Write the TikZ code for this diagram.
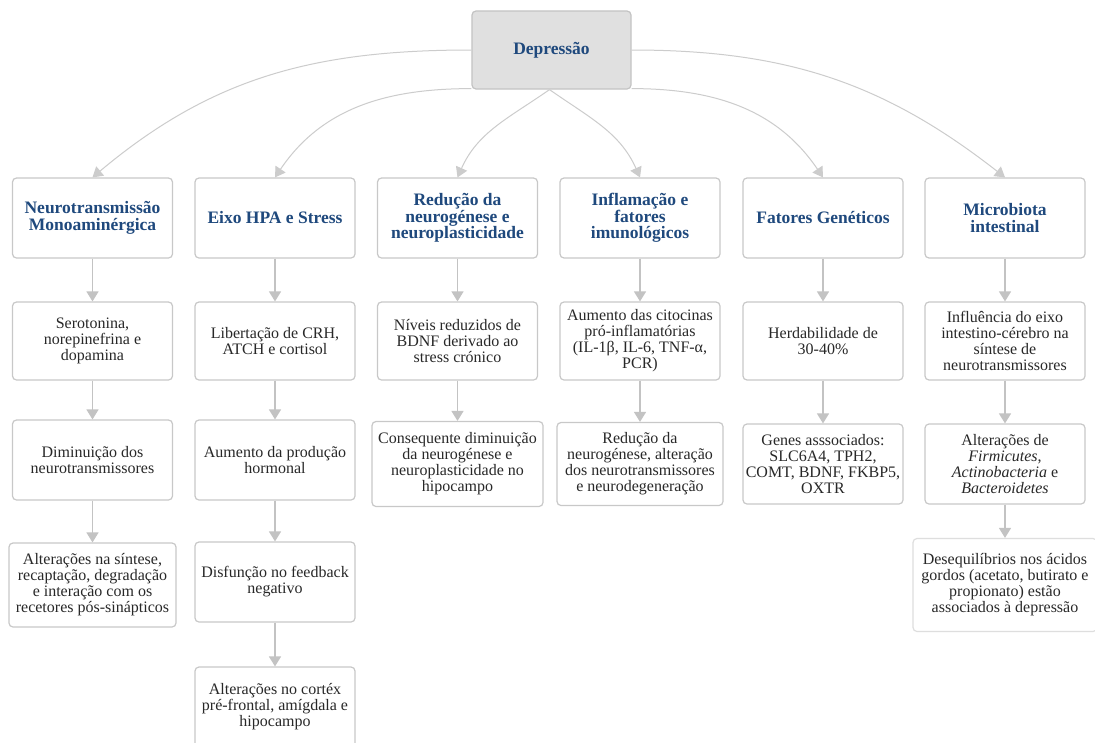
\documentclass[tikz,border=0pt]{standalone}
\usepackage{fontspec}
\setmainfont{Liberation Serif}
\usetikzlibrary{arrows.meta}

\definecolor{boxline}{RGB}{200,200,200}
\definecolor{rootfill}{RGB}{224,224,224}
\definecolor{headblue}{RGB}{31,73,125}
\definecolor{linkgray}{RGB}{195,195,195}
\definecolor{txtgray}{RGB}{40,40,40}

\tikzset{
  cbox/.style={draw=boxline, line width=1.2pt, rounded corners=4pt, fill=white,
    align=center, minimum width=160pt, minimum height=80pt, inner sep=1pt,
    text=txtgray, font=\fontsize{16}{16}\selectfont},
  headbox/.style={cbox, text=headblue, font=\bfseries\fontsize{17.5}{16.5}\selectfont},
  link/.style={draw=linkgray, line width=1.4pt, -{Triangle[width=12pt,length=10pt]}},
  branch/.style={draw=linkgray!85, line width=1pt, -{Triangle[width=12pt,length=10pt]}},
}

\begin{document}
\begin{tikzpicture}[x=1pt,y=1pt]
  \fill[white] (0,0) rectangle (1095,-742);
  \useasboundingbox (0,0) rectangle (1095,-742);

  % root
  \node[headbox, fill=rootfill, draw=linkgray, minimum width=159pt, minimum height=78pt] (root) at (551.5,-50) {Depressão};

  % first row
  \node[headbox] (n1) at (92.5,-218) {Neurotransmissão\\Monoaminérgica};
  \node[headbox] (h1) at (275,-218) {Eixo HPA e Stress};
  \node[headbox] (r1) at (457.5,-218) {Redução da\\neurogénese e\\neuroplasticidade};
  \node[headbox] (i1) at (640,-218) {Inflamação e\\fatores\\imunológicos};
  \node[headbox] (g1) at (823,-218) {Fatores Genéticos};
  \node[headbox] (m1) at (1005,-218) {Microbiota\\intestinal};

  % second row
  \node[cbox, minimum height=78pt] (n2) at (92.5,-341) {Serotonina,\\norepinefrina e\\dopamina};
  \node[cbox, minimum height=78pt] (h2) at (275,-341) {Libertação de CRH,\\ATCH e cortisol};
  \node[cbox, minimum height=78pt] (r2) at (457.5,-341) {Níveis reduzidos de\\BDNF derivado ao\\stress crónico};
  \node[cbox, minimum height=78pt] (i2) at (640,-341) {Aumento das citocinas\\pró-inflamatórias\\(IL-1β, IL-6, TNF-α,\\PCR)};
  \node[cbox, minimum height=78pt] (g2) at (823,-341) {Herdabilidade de\\30-40\%};
  \node[cbox, minimum height=78pt] (m2) at (1005,-341) {Influência do eixo\\intestino-cérebro na\\síntese de\\neurotransmissores};

  % third row
  \node[cbox] (n3) at (92.5,-460) {Diminuição dos\\neurotransmissores};
  \node[cbox] (h3) at (275,-460) {Aumento da produção\\hormonal};
  \node[cbox, minimum width=171pt, minimum height=85pt] (r3) at (457.5,-464) {Consequente diminuição\\da neurogénese e\\neuroplasticidade no\\hipocampo};
  \node[cbox, minimum width=166pt, minimum height=83pt] (i3) at (640,-464) {Redução da\\neurogénese, alteração\\dos neurotransmissores\\e neurodegeneração};
  \node[cbox] (g3) at (823,-464) {Genes asssociados:\\SLC6A4, TPH2,\\COMT, BDNF, FKBP5,\\OXTR};
  \node[cbox] (m3) at (1005,-464) {Alterações de\\\textit{Firmicutes},\\\textit{Actinobacteria} e\\\textit{Bacteroidetes}};

  % fourth and fifth rows
  \node[cbox, minimum width=167pt, minimum height=84pt] (n4) at (92.5,-585) {Alterações na síntese,\\recaptação, degradação\\e interação com os\\recetores pós-sinápticos};
  \node[cbox] (h4) at (275,-582) {Disfunção no feedback\\negativo};
  \node[cbox, draw=boxline!60, minimum width=184pt, minimum height=93pt] (m4) at (1005,-585) {Desequilíbrios nos ácidos\\gordos (acetato, butirato e\\propionato) estão\\associados à depressão};
  \node[cbox] (h5) at (275,-707) {Alterações no cortéx\\pré-frontal, amígdala e\\hipocampo};

  % branches from the root
  \draw[branch] (root.west) to[out=180,in=40] (n1.north);
  \draw[branch] ([yshift=1pt]root.south west) to[out=180,in=56] (h1.north);
  \draw[branch] ([xshift=-2pt]root.south) to[out=215,in=66] (r1.north);
  \draw[branch] ([xshift=-2pt]root.south) to[out=-35,in=114] (i1.north);
  \draw[branch] ([yshift=1pt]root.south east) to[out=0,in=124] (g1.north);
  \draw[branch] (root.east) to[out=0,in=142] (m1.north);

  % columns
  \foreach \a/\b in {n1/n2,n2/n3,n3/n4,h1/h2,h2/h3,h3/h4,h4/h5,r1/r2,r2/r3,
                     i1/i2,i2/i3,g1/g2,g2/g3,m1/m2,m2/m3,m3/m4}
    \draw[link] (\a) -- (\b);
\end{tikzpicture}
\end{document}
